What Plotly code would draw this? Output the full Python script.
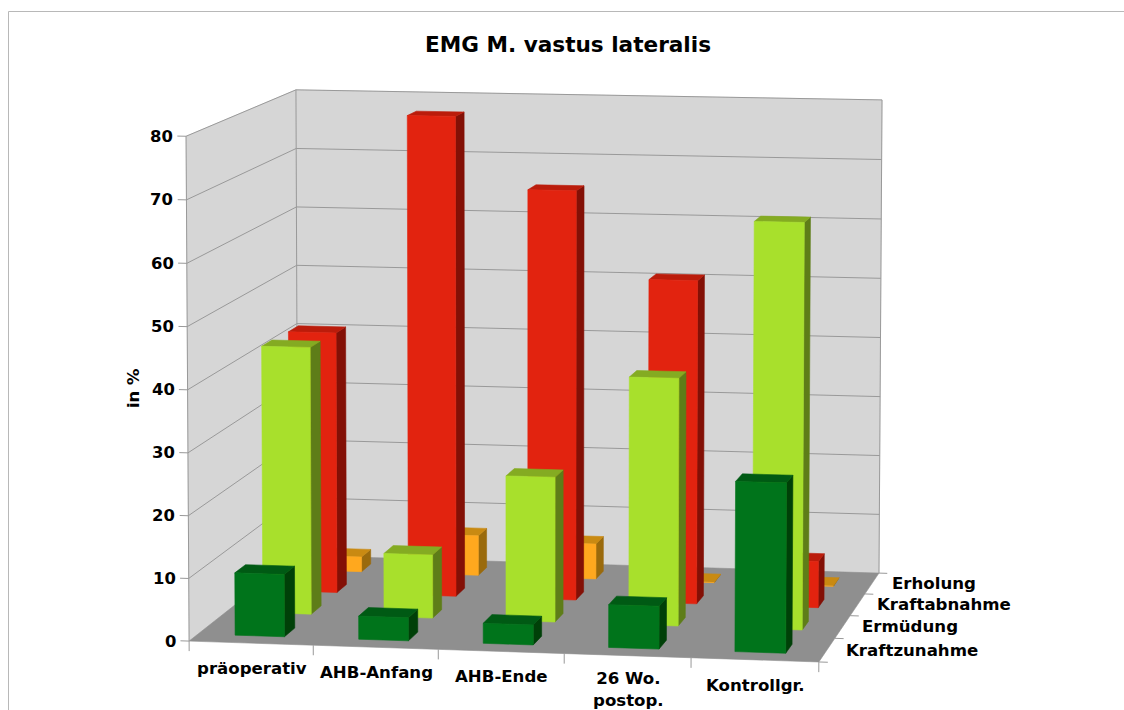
import numpy as np
import plotly.graph_objects as go

categories = ["präoperativ", "AHB-Anfang", "AHB-Ende", "26 Wo.<br>postop.", "Kontrollgr."]
series_names = ["Kraftzunahme", "Ermüdung", "Kraftabnahme", "Erholung"]
kraftzunahme = [10.0, 3.7, 3.2, 6.8, 26.9]
ermuedung = [43.5, 10.3, 23.5, 40.0, 65.4]
kraftabnahme = [43.2, 79.3, 67.5, 53.2, 7.6]
erholung = [2.5, 6.7, 5.9, 0.1, 0.1]
value_ticks = [0, 10, 20, 30, 40, 50, 60, 70, 80]
series_values = [kraftzunahme, ermuedung, kraftabnahme, erholung]

front_colors = ["#00741b", "#a8e02c", "#e2230f", "#ffa81e"]
top_colors = ["#005a14", "#84ab22", "#bb1c0b", "#c98a12"]
side_colors = ["#004008", "#5e7d18", "#831006", "#9a6a0c"]
WALL = "#d6d6d6"
FLOOR = "#8f8f8f"
GRID = "#999999"
FONT = "DejaVu Sans"
W, H = 1124, 710
NC, NS, VMAX = len(categories), len(series_names), value_ticks[-1]

# Oblique view of the chart box: where its corners sit on the page.
box_corners = [((0, 0, 0), (190, 641)), ((NC, 0, 0), (818.3, 662.3)), ((NC, NS, 0), (879.5, 572.7)),
               ((0, NS, 0), (297, 555.5)), ((0, 0, VMAX), (185.7, 136)), ((0, NS, VMAX), (296.3, 90)),
               ((NC, NS, VMAX), (882, 100))]
rows = []
for (u, v, w), (px, py) in box_corners:
    a = [u / NC, v / NS, w / VMAX, 1]
    px, py = px / W, py / H
    rows.append(a + [0, 0, 0, 0] + [-px * t for t in a])
    rows.append([0, 0, 0, 0] + a + [-py * t for t in a])
P = np.linalg.svd(np.array(rows))[2][-1].reshape(3, 4)


def project(u, v, w):
    q = P @ np.array([u / NC, v / NS, w / VMAX, 1.0])
    return float(q[0] / q[2] * W), float(q[1] / q[2] * H)


fig = go.Figure()


def polys(quads, color, line=None, width=0.6):
    xs, ys = [], []
    for q in quads:
        pts = [project(*p) for p in q]
        pts.append(pts[0])
        xs += [p[0] for p in pts] + [None]
        ys += [p[1] for p in pts] + [None]
    fig.add_trace(go.Scatter(x=xs, y=ys, mode="lines", fill="toself", fillcolor=color,
                             line=dict(color=line or color, width=width), hoverinfo="skip"))


def segs(lines, color=GRID, width=1):
    xs, ys = [], []
    for pts in lines:
        for p in pts:
            x, y = project(*p)
            xs.append(x)
            ys.append(y)
        xs.append(None)
        ys.append(None)
    fig.add_trace(go.Scatter(x=xs, y=ys, mode="lines", line=dict(color=color, width=width), hoverinfo="skip"))


# walls and floor
polys([[(0, 0, 0), (0, NS, 0), (0, NS, VMAX), (0, 0, VMAX)], [(0, NS, 0), (NC, NS, 0), (NC, NS, VMAX), (0, NS, VMAX)]], WALL)
polys([[(0, 0, 0), (NC, 0, 0), (NC, NS, 0), (0, NS, 0)]], FLOOR)
segs([[(0, 0, t), (0, NS, t), (NC, NS, t)] for t in value_ticks[1:]])
segs([[(0, 0, 0), (0, 0, VMAX)], [(0, NS, 0), (0, NS, VMAX)], [(NC, NS, 0), (NC, NS, VMAX)]])
# tick marks
segs([[(0, 0, t), (-0.07, 0, t)] for t in value_ticks])
segs([[(i, 0, 0), (i, 0, -1.6)] for i in range(NC + 1)])
segs([[(NC, j, 0), (NC + 0.07, j, 0)] for j in range(NS + 1)])

# bars, back row first
BX0, BX1, BY0, BY1 = 0.3, 0.7, 0.31, 0.69
for j in reversed(range(NS)):
    fronts, tops, sides = [], [], []
    for i, val in enumerate(series_values[j]):
        a, b, c, d = i + BX0, i + BX1, j + BY0, j + BY1
        fronts.append([(a, c, 0), (b, c, 0), (b, c, val), (a, c, val)])
        tops.append([(a, c, val), (b, c, val), (b, d, val), (a, d, val)])
        sides.append([(b, c, 0), (b, d, 0), (b, d, val), (b, c, val)])
    polys(sides, side_colors[j])
    polys(tops, top_colors[j])
    polys(fronts, front_colors[j])

# text
for t in value_ticks:
    x, y = project(0, 0, t)
    fig.add_annotation(x=x, y=y, text=f"<b>{t}</b>", showarrow=False, xanchor="right", yanchor="middle",
                       xshift=-11, font=dict(size=16.4, color="black", family=FONT))
cat_yshift = [-14, -14, -14, -11, -14]
for i, name in enumerate(categories):
    x, y = project(i + 0.5, 0, 0)
    fig.add_annotation(x=x, y=y, text=f"<b>{name}</b>", showarrow=False, xanchor="center", yanchor="top",
                       xshift=0.5, yshift=cat_yshift[i], align="center", font=dict(size=16.6, color="black", family=FONT))
for j, name in enumerate(series_names):
    x, y = project(NC, j + 0.5, 0)
    fig.add_annotation(x=x, y=y, text=f"<b>{name}</b>", showarrow=False, xanchor="left", yanchor="middle",
                       xshift=17.5, font=dict(size=16.6, color="black", family=FONT))
fig.add_annotation(x=133, y=389, text="<b>in %</b>", textangle=-90, showarrow=False,
                   font=dict(size=16.4, color="black", family=FONT))

fig.update_layout(
    width=W, height=H, margin=dict(l=0, r=0, t=0, b=0), showlegend=False,
    paper_bgcolor="white", plot_bgcolor="white",
    title=dict(text="<b>EMG M. vastus lateralis</b>", x=568 / W, xanchor="center", y=1 - 44 / H, yanchor="middle",
               font=dict(size=21.6, color="black", family=FONT)),
    xaxis=dict(range=[0, W], visible=False, fixedrange=True),
    yaxis=dict(range=[H, 0], visible=False, fixedrange=True),
    shapes=[dict(type="rect", xref="x", yref="y", x0=8.5, y0=11.5, x1=W + 20, y1=H + 20,
                 line=dict(color="#b8b8b8", width=1), layer="below")],
)
fig.write_html("out.html", config=dict(displayModeBar=False),
               post_script="document.body.style.margin='0';document.body.style.overflow='hidden';")
